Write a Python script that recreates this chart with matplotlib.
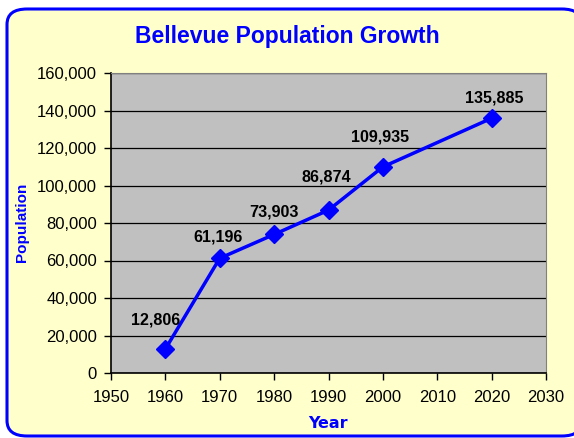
import matplotlib.pyplot as plt
from matplotlib.patches import FancyBboxPatch

years = [1960, 1970, 1980, 1990, 2000, 2020]
population = [12806, 61196, 73903, 86874, 109935, 135885]
# label offsets in pixels (dx, dy) relative to each point
label_offsets = [(-10, 29), (-2, 21), (0, 22), (-2, 33), (-3, 30), (3, 20)]

fig = plt.figure(figsize=(5.74, 4.38), dpi=100)
fig.patch.set_facecolor('white')

# rounded yellow frame with blue border
frame = FancyBboxPatch((7 / 574, 2 / 438), 575 / 574, 427 / 438,
                       boxstyle='round,pad=0,rounding_size=0.035',
                       transform=fig.transFigure, facecolor='#FFFFCC',
                       edgecolor='#0000FF', linewidth=2.2, zorder=-10)
fig.patches.append(frame)

ax = fig.add_axes([111 / 574, 1 - 373 / 438, 435 / 574, 300 / 438])
ax.set_facecolor('#C0C0C0')

ax.plot(years, population, color='#0000FF', linewidth=2.5, marker='D',
        markersize=9, zorder=3, clip_on=False)

for x, y, (dx, dy) in zip(years, population, label_offsets):
    ax.annotate(f'{y:,}', (x, y), xytext=(dx * 0.72, dy * 0.72),
                textcoords='offset points', ha='center', va='center',
                fontsize=11.6, fontweight='bold', family='Liberation Sans')

ax.set_xlim(1950, 2030)
ax.set_ylim(0, 160000)
ax.set_xticks(range(1950, 2031, 10))
ax.set_yticks(range(0, 160001, 20000))
ax.yaxis.set_major_formatter(plt.FuncFormatter(lambda v, p: f'{int(v):,}'))
ax.yaxis.grid(True, color='black', linewidth=0.9)
ax.set_axisbelow(True)

for lab in ax.get_xticklabels() + ax.get_yticklabels():
    lab.set_family('Liberation Sans')
    lab.set_fontsize(12)
ax.tick_params(axis='both', direction='out', length=5, width=1, color='black', pad=5)
ax.tick_params(axis='x', pad=7)

for side in ['top', 'right']:
    ax.spines[side].set_color('#808080')
for side in ['left', 'bottom']:
    ax.spines[side].set_color('black')
    ax.spines[side].set_linewidth(1.2)

fig.text(328 / 574, 1 - 424 / 438, 'Year', ha='center', va='center',
         color='#0000FF', fontweight='bold', fontsize=11.5, family='DejaVu Sans')
fig.text(22 / 574, 1 - 222 / 438, 'Population', ha='center', va='center', rotation=90,
         color='#0000FF', fontweight='bold', fontsize=11, family='Liberation Sans')

fig.text(0.5, 1 - 37 / 438, 'Bellevue Population Growth', ha='center', va='center',
         color='#0000FF', fontweight='bold', fontsize=16.5, family='Liberation Sans')

fig.savefig('out.png', dpi=100, facecolor=fig.get_facecolor())
